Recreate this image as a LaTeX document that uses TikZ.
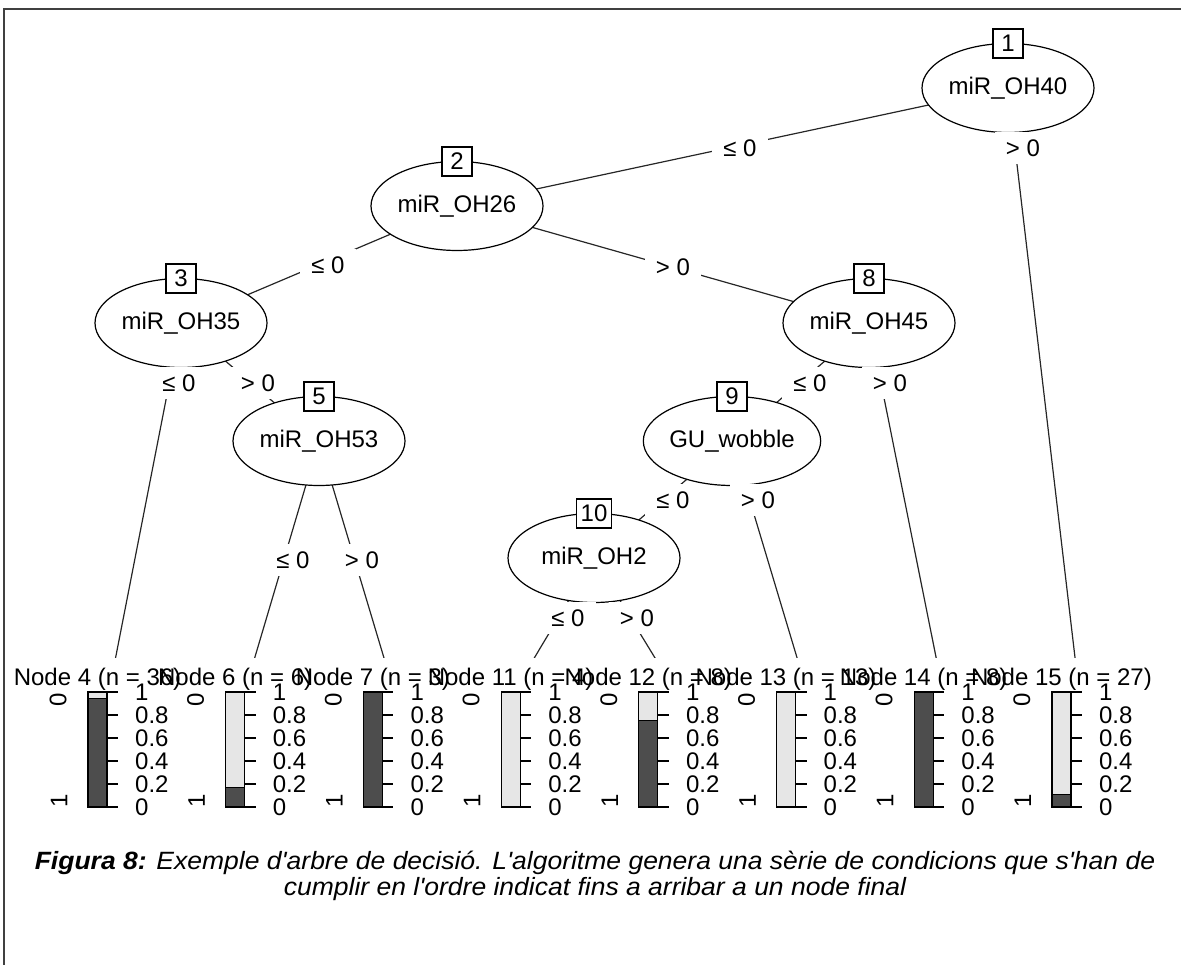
\documentclass[tikz,border=0pt]{standalone}
\usepackage{fontspec}
\usepackage{graphicx}
\usepackage{textcomp}
\setmainfont{Liberation Sans}
\usetikzlibrary{shapes.geometric}
\pgfdeclarelayer{edges}
\pgfsetlayers{edges,main}
\definecolor{darkbar}{HTML}{4D4D4D}
\definecolor{lightbar}{HTML}{E6E6E6}
\definecolor{framegray}{HTML}{404040}
\newcommand\plotfont{\fontsize{24}{28}\selectfont}
\newcommand\apos{\textquotesingle}

\begin{document}
\begin{tikzpicture}[x=1pt,y=-1pt,
  split/.style={ellipse,draw,line width=1.2pt,fill=white,minimum width=172pt,
    minimum height=89pt,inner sep=0pt,font=\plotfont},
  idbox/.style={draw,line width=1.2pt,fill=white,minimum width=30pt,minimum height=29pt,
    inner xsep=4.5pt,inner ysep=0pt,font=\plotfont},
  elabel/.style={fill=white,minimum width=56pt,minimum height=32pt,inner sep=0pt,font=\plotfont},
  branch/.style={line width=1.2pt,black!85},
  small/.style={font=\plotfont,inner sep=0pt},
  caption/.style={font=\fontsize{25}{28}\selectfont\itshape,inner sep=0pt,anchor=base}]
\useasboundingbox (0,0) rectangle (1181,965);

% inner (split) nodes
\node[split] (n1)  at (1008,88)  {miR\_OH40};
\node[split] (n2)  at (457,206)  {miR\_OH26};
\node[split] (n3)  at (181,323)  {miR\_OH35};
\node[split] (n5)  at (319,441)  {miR\_OH53};
\node[split] (n8)  at (869,323)  {miR\_OH45};
\node[split] (n9)  at (732,441)  {GU\_wobble};
\node[split] (n10) at (594,558)  {miR\_OH2};

% node numbers on top of the ellipses
\foreach \id in {1,2,3,5,8,9,10}
  \node[idbox] (b\id) at ([yshift=44.5pt]n\id.center) {\id};

% white background of the terminal panels
\fill[white] (10,658) rectangle (1175,830);

% terminal panels: stacked bars of the two classes
\foreach \k/\id/\n/\d in {0/4/36/0.944, 1/6/6/0.1667, 2/7/3/1, 3/11/4/0,
                           4/12/8/0.75, 5/13/13/0, 6/14/8/1, 7/15/27/0.1111} {
  \pgfmathsetmacro{\bx}{88+137.7*\k}
  \pgfmathsetmacro{\by}{807-115*\d}
  \coordinate (t\id) at (\bx+24.8,672);
  \node[small,anchor=base] (title\id) at (\bx+9.5,685) {Node \id\ (n = \n)};
  \draw[line width=1.2pt,fill=lightbar] (\bx,692) rectangle (\bx+19,\by);
  \draw[line width=1.2pt,fill=darkbar] (\bx,\by) rectangle (\bx+19,807);
  \draw[line width=1.2pt] (\bx+19,692) -- (\bx+19,807);
  \foreach \v/\lab in {0/0,0.2/0.2,0.4/0.4,0.6/0.6,0.8/0.8,1/1} {
    \draw[line width=1.2pt] (\bx+19,{807-115*\v}) -- (\bx+30,{807-115*\v});
    \node[small,anchor=west] at (\bx+47,{807-115*\v}) {\lab};
  }
  \node[small,rotate=90] (c0\id) at (\bx-30,700) {0};
  \node[small,rotate=90] (c1\id) at (\bx-29,801) {1};
}

% branches
\begin{pgfonlayer}{edges}
  \draw[branch] (n1.center) -- (n2.center);
  \draw[branch] (n1.center) -- (t15);
  \draw[branch] (n2.center) -- (n3.center);
  \draw[branch] (n2.center) -- (n8.center);
  \draw[branch] (n3.center) -- (t4);
  \draw[branch] (n3.center) -- (n5.center);
  \draw[branch] (n5.center) -- (t6);
  \draw[branch] (n5.center) -- (t7);
  \draw[branch] (n8.center) -- (n9.center);
  \draw[branch] (n8.center) -- (t14);
  \draw[branch] (n9.center) -- (n10.center);
  \draw[branch] (n9.center) -- (t13);
  \draw[branch] (n10.center) -- (t11);
  \draw[branch] (n10.center) -- (t12);
\end{pgfonlayer}

% split conditions
\node[elabel] (l12)  at (740,148) {≤ 0};
\node[elabel] (l115) at (1023,148) {> 0};
\node[elabel] (l23)  at (328,265) {≤ 0};
\node[elabel] (l28)  at (673,267) {> 0};
\node[elabel] (l34)  at (179,383) {≤ 0};
\node[elabel] (l35)  at (258,383) {> 0};
\node[elabel] (l56)  at (293,560) {≤ 0};
\node[elabel] (l57)  at (362,560) {> 0};
\node[elabel] (l89)  at (810,383) {≤ 0};
\node[elabel] (l814) at (890,383) {> 0};
\node[elabel] (l910) at (673,500) {≤ 0};
\node[elabel] (l913) at (758,500) {> 0};
\node[elabel] (l1011) at (568,618) {≤ 0};
\node[elabel] (l1012) at (637,618) {> 0};

% caption
\node[caption] (cap1) at (595,869) {\scalebox{1.06}[1]{\textbf{Figura 8:} Exemple d\apos arbre de decisió. L\apos algoritme genera una sèrie de condicions que s\apos han de}};
\node[caption] (cap2) at (595,895) {\scalebox{1.06}[1]{cumplir en l\apos ordre indicat fins a arribar a un node final}};

% page frame
\draw[framegray,line width=1.5pt] (4,965) -- (4,9) -- (1181,9);
\end{tikzpicture}
\end{document}
